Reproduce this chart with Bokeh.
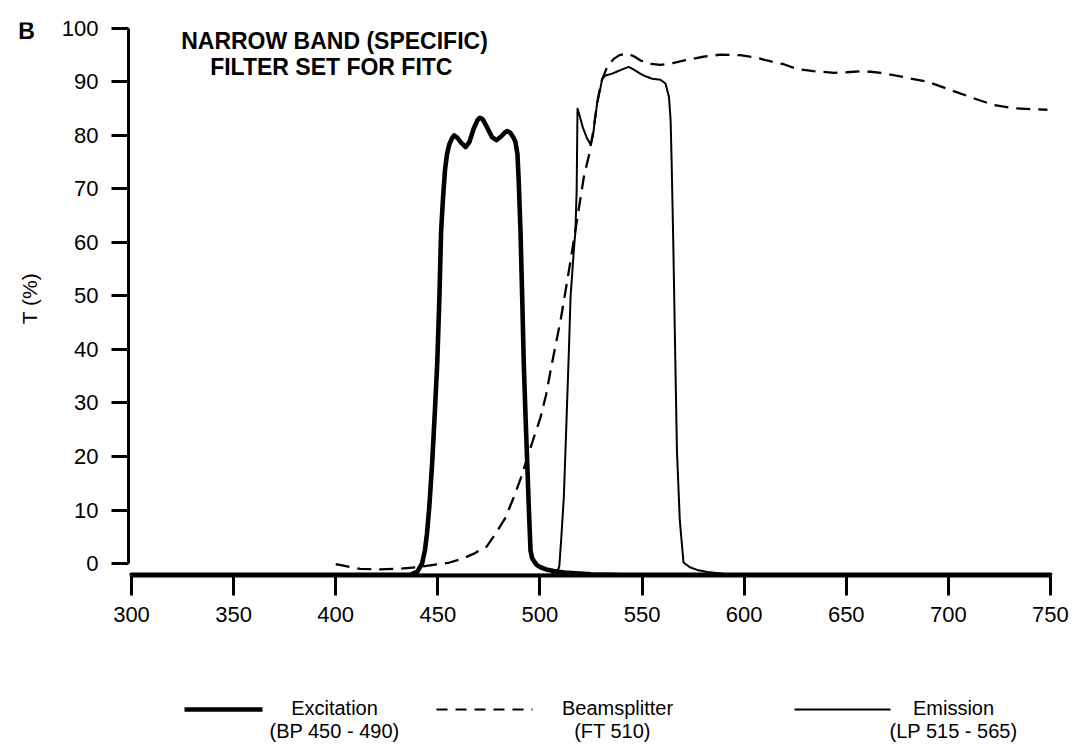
import math
from bokeh.plotting import figure
from bokeh.models import Range1d, Label, FixedTicker
from bokeh.layouts import gridplot
from bokeh.embed import file_html
from bokeh.resources import INLINE

# ---------------- data ----------------
x_ticks = [300, 350, 400, 450, 500, 550, 600, 650, 700, 750]
y_ticks = [0, 10, 20, 30, 40, 50, 60, 70, 80, 90, 100]

# Excitation filter BP 450-490 (thick line)
exc_nm = [300, 430, 436.5, 440, 442.3, 443.7, 444.7, 445.8, 447.2, 448.5, 449.7, 450.8,
          451.6, 452.5, 453.5, 454.5, 455.6, 457, 458, 459.5, 461.5, 463.6, 465.5, 467.5,
          469.5, 470.6, 472, 474, 476.5, 478.7, 481, 483, 484, 485.5, 487, 488, 489,
          489.6, 490.5, 491.3, 492.1, 493, 493.8, 494.6, 495.4, 496.2, 497, 498.5, 500.3,
          503, 506.8, 512, 525, 540, 750]
exc_t = [-2.1, -2.1, -2.1, -1.5, 0, 2.5, 5.6, 10.5, 18.6, 28, 37.3, 50,
         62, 68, 73.5, 76.5, 78.3, 79.5, 80, 79.6, 78.6, 77.8, 78.8, 81.2,
         82.9, 83.3, 83, 81.6, 79.7, 79.1, 79.8, 80.6, 80.8, 80.5, 79.6, 78.8, 76.5,
         71.6, 62, 50, 37.3, 27, 18.6, 10, 2.4, 1, 0.5, -0.3, -0.7,
         -1.1, -1.4, -1.7, -2.0, -2.1, -2.1]

# Beamsplitter FT 510 (dashed line)
bs_nm = [400, 405, 412, 420, 430, 440, 447, 455, 462, 468, 474, 479, 483, 487, 490.5,
         494, 497, 500.3, 503, 505.2, 507.5, 510.1, 513.4, 515.8, 518.5, 521.5, 524, 526,
         528, 530, 532.9, 536.1, 539, 542.7, 546, 549.3, 553.3, 559.2, 565, 570.5, 580,
         588.5, 598, 605, 611.3, 619.4, 626, 634, 644, 650, 657, 662, 667, 678, 690, 701,
         712, 722, 732, 740, 748.5]
bs_t = [-0.1, -0.5, -1.0, -1.1, -1.0, -0.7, -0.3, 0.1, 0.9, 1.9, 3.2, 6.0, 8.5, 12.2, 15.8,
        20, 23.5, 27.3, 31.5, 36, 40.5, 45.4, 52.9, 58.5, 65, 72.2, 76.3, 80.5,
        86, 90, 92.8, 94.3, 95, 95.3, 94.8, 94, 93.4, 93.2, 93.5, 94, 94.7,
        95.1, 95, 94.6, 94, 93.3, 92.4, 92, 91.7, 91.8, 92, 91.9, 91.7, 90.9, 90, 88.5,
        87, 85.7, 85.1, 84.9, 84.8]

# Emission filter LP 515-565 (thin line)
em_nm = [300, 505, 508.5, 509.5, 510.5, 511.7, 512.5, 513.4, 514.2, 515, 516.6, 517.4,
         518, 518.4, 519.2, 521, 523, 524.8, 526, 527, 528, 529.7, 530.5, 532, 535, 537,
         540, 543.5, 546, 549.3, 552, 555, 559, 561.5, 563.2, 564, 564.5, 565.3, 566.2,
         567.1, 568.5, 570.3, 573.4, 577, 582, 590, 597, 750]
em_t = [-2.1, -2.1, -1.6, -0.5, 5, 12.4, 21, 31, 40, 49.8, 58.5, 62.2,
        70, 85, 84, 81.5, 79.5, 78.3, 80, 83, 86, 89, 90.6, 91.2, 91.5, 91.8,
        92.3, 92.8, 92.3, 91.5, 91, 90.6, 90.4, 89.7, 87.2, 82.8, 75, 60, 40,
        21, 8, 0.2, -0.7, -1.2, -1.6, -1.9, -2.1, -2.1]

title_lines = ["NARROW BAND (SPECIFIC)", "FILTER SET FOR  FITC"]
legend_names = ["Excitation", "Beamsplitter", "Emission"]
legend_subs = ["(BP 450 - 490)", "(FT 510)", "(LP 515 - 565)"]

# ---------------- styles / layout ----------------
FONT = "Liberation Sans"
BLACK = "#000000"
Y0, Y1 = -2.24, 101.1

# left strip: panel letter and y-axis title
left = figure(frame_width=58, frame_height=553, min_border_left=0, min_border_right=0,
              min_border_top=22, min_border_bottom=65,
              x_range=Range1d(0, 58), y_range=Range1d(Y0, Y1),
              x_axis_location=None, y_axis_location=None,
              output_backend="svg", toolbar_location=None)
left.grid.visible = False
left.outline_line_color = None
left.add_layout(Label(x=26, y=99.5, text="B", text_align="center", text_baseline="middle",
                      text_font=FONT, text_font_size="23px", text_font_style="bold",
                      text_color=BLACK))
left.add_layout(Label(x=29, y=49.5, text="T (%)", text_align="center", text_baseline="middle",
                      angle=math.pi / 2, text_font=FONT, text_font_size="21px",
                      text_color=BLACK))

# main plot
p = figure(frame_width=924, frame_height=553,
           min_border_left=70, min_border_right=25, min_border_top=22, min_border_bottom=65,
           x_range=Range1d(298.53, 751.0), y_range=Range1d(Y0, Y1),
           output_backend="svg", toolbar_location=None)
p.grid.visible = False
p.outline_line_color = None

xa = p.xaxis[0]
xa.ticker = FixedTicker(ticks=x_ticks)
xa.bounds = (300, 750)
xa.axis_line_width = 4
xa.axis_line_color = BLACK
xa.major_tick_out = 20
xa.major_tick_in = 0
xa.major_tick_line_width = 3
xa.minor_tick_line_color = None
xa.major_label_text_font = FONT
xa.major_label_text_font_size = "22px"
xa.major_label_text_color = BLACK
xa.major_label_standoff = 11

ya = p.yaxis[0]
ya.ticker = FixedTicker(ticks=y_ticks)
ya.bounds = (0, 100)
ya.axis_line_width = 3
ya.axis_line_color = BLACK
ya.major_tick_out = 17
ya.major_tick_in = 0
ya.major_tick_line_width = 3
ya.minor_tick_line_color = None
ya.major_label_text_font = FONT
ya.major_label_text_font_size = "22px"
ya.major_label_text_color = BLACK
ya.major_label_standoff = 13

p.line(bs_nm, bs_t, line_color=BLACK, line_width=2.3, line_dash="14 8")
p.line(em_nm, em_t, line_color=BLACK, line_width=2.0, line_join="round")
p.line(exc_nm, exc_t, line_color=BLACK, line_width=4.6, line_join="round", line_cap="round")

for txt, yy in zip(title_lines, [97.7, 92.7]):
    p.add_layout(Label(x=399.4, y=yy, text=txt, text_align="center", text_baseline="middle",
                       text_font=FONT, text_font_size="23px", text_font_style="bold",
                       text_color=BLACK))

# legend strip (coordinates = page pixels)
lg = figure(frame_width=924, frame_height=105, min_border_left=70, min_border_right=25,
            min_border_top=0, min_border_bottom=0,
            x_range=Range1d(128, 1052), y_range=Range1d(745, 640),
            x_axis_location=None, y_axis_location=None,
            output_backend="svg", toolbar_location=None)
lg.grid.visible = False
lg.outline_line_color = None

row1, row2 = 707, 730
samples = [([184, 262], 4.6, "solid"), ([436, 532], 2.0, "11 8"), ([794, 890], 2.0, "solid")]
text_x = [(334, 334), (617, 612), (953, 953)]
for (xs, w, dash), (tx1, tx2), nm, sub in zip(samples, text_x, legend_names, legend_subs):
    lg.line(xs, [row1 + 2, row1 + 2], line_color=BLACK, line_width=w, line_dash=dash)
    lg.add_layout(Label(x=tx1, y=row1, text=nm, text_align="center", text_baseline="middle",
                        text_font=FONT, text_font_size="20px", text_color=BLACK))
    lg.add_layout(Label(x=tx2, y=row2, text=sub, text_align="center", text_baseline="middle",
                        text_font=FONT, text_font_size="20px", text_color=BLACK))

grid = gridplot([[left, p], [None, lg]], toolbar_location=None)
open("out.html", "w").write(file_html(grid, INLINE))
